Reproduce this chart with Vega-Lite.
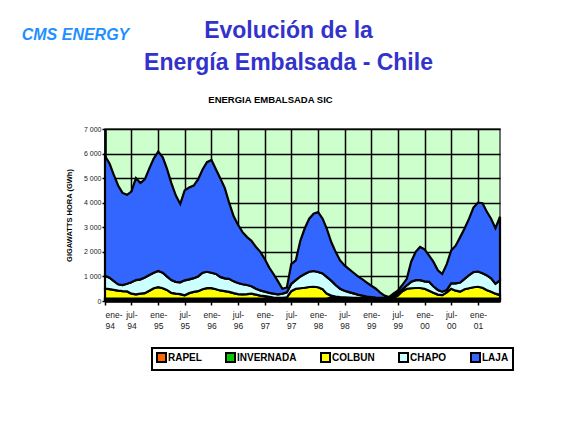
{
  "$schema": "https://vega.github.io/schema/vega-lite/v6.json",
  "width": 395,
  "height": 172,
  "autosize": {"type": "none"},
  "padding": {"left": 105, "top": 129, "right": 78, "bottom": 133},
  "background": "white",
  "title": {
    "text": ["Evolución de la", "Energía Embalsada - Chile"],
    "subtitle": "ENERGIA EMBALSADA SIC",
    "anchor": "middle",
    "frame": "group",
    "font": "Liberation Sans",
    "fontSize": 23,
    "fontWeight": "bold",
    "color": "#3333CC",
    "lineHeight": 32,
    "dx": -14,
    "subtitleFont": "Liberation Sans",
    "subtitleFontSize": 9.5,
    "subtitleFontWeight": "bold",
    "subtitleColor": "black",
    "subtitlePadding": 20,
    "offset": -78,
    "encode": {"subtitle": {"update": {"dx": {"value": -32}}}}
  },
  "datasets": {
    "orden": [
      {"serie": "RAPEL", "k": 1},
      {"serie": "INVERNADA", "k": 2},
      {"serie": "COLBUN", "k": 3},
      {"serie": "CHAPO", "k": 4},
      {"serie": "LAJA", "k": 5}
    ],
    "embalse": [
      {"fecha": "1994/01/01", "RAPEL": 90, "INVERNADA": 10, "COLBUN": 400, "CHAPO": 530, "LAJA": 4870},
      {"fecha": "1994/02/01", "RAPEL": 90, "INVERNADA": 10, "COLBUN": 380, "CHAPO": 470, "LAJA": 4650},
      {"fecha": "1994/03/01", "RAPEL": 90, "INVERNADA": 10, "COLBUN": 350, "CHAPO": 370, "LAJA": 4330},
      {"fecha": "1994/04/01", "RAPEL": 90, "INVERNADA": 10, "COLBUN": 320, "CHAPO": 260, "LAJA": 4020},
      {"fecha": "1994/05/01", "RAPEL": 90, "INVERNADA": 10, "COLBUN": 300, "CHAPO": 250, "LAJA": 3750},
      {"fecha": "1994/06/01", "RAPEL": 90, "INVERNADA": 10, "COLBUN": 290, "CHAPO": 310, "LAJA": 3620},
      {"fecha": "1994/07/01", "RAPEL": 90, "INVERNADA": 10, "COLBUN": 200, "CHAPO": 460, "LAJA": 3690},
      {"fecha": "1994/08/01", "RAPEL": 90, "INVERNADA": 10, "COLBUN": 170, "CHAPO": 580, "LAJA": 4150},
      {"fecha": "1994/09/01", "RAPEL": 90, "INVERNADA": 10, "COLBUN": 200, "CHAPO": 580, "LAJA": 3920},
      {"fecha": "1994/10/01", "RAPEL": 90, "INVERNADA": 10, "COLBUN": 220, "CHAPO": 640, "LAJA": 3990},
      {"fecha": "1994/11/01", "RAPEL": 90, "INVERNADA": 10, "COLBUN": 320, "CHAPO": 640, "LAJA": 4340},
      {"fecha": "1994/12/01", "RAPEL": 90, "INVERNADA": 10, "COLBUN": 420, "CHAPO": 630, "LAJA": 4650},
      {"fecha": "1995/01/01", "RAPEL": 90, "INVERNADA": 10, "COLBUN": 460, "CHAPO": 660, "LAJA": 4860},
      {"fecha": "1995/02/01", "RAPEL": 90, "INVERNADA": 10, "COLBUN": 420, "CHAPO": 630, "LAJA": 4700},
      {"fecha": "1995/03/01", "RAPEL": 90, "INVERNADA": 10, "COLBUN": 350, "CHAPO": 550, "LAJA": 4400},
      {"fecha": "1995/04/01", "RAPEL": 90, "INVERNADA": 10, "COLBUN": 230, "CHAPO": 520, "LAJA": 3950},
      {"fecha": "1995/05/01", "RAPEL": 90, "INVERNADA": 10, "COLBUN": 200, "CHAPO": 480, "LAJA": 3520},
      {"fecha": "1995/06/01", "RAPEL": 90, "INVERNADA": 10, "COLBUN": 180, "CHAPO": 480, "LAJA": 3190},
      {"fecha": "1995/07/01", "RAPEL": 90, "INVERNADA": 10, "COLBUN": 130, "CHAPO": 610, "LAJA": 3660},
      {"fecha": "1995/08/01", "RAPEL": 90, "INVERNADA": 10, "COLBUN": 220, "CHAPO": 560, "LAJA": 3740},
      {"fecha": "1995/09/01", "RAPEL": 90, "INVERNADA": 10, "COLBUN": 270, "CHAPO": 560, "LAJA": 3770},
      {"fecha": "1995/10/01", "RAPEL": 90, "INVERNADA": 10, "COLBUN": 300, "CHAPO": 600, "LAJA": 3950},
      {"fecha": "1995/11/01", "RAPEL": 90, "INVERNADA": 10, "COLBUN": 380, "CHAPO": 670, "LAJA": 4200},
      {"fecha": "1995/12/01", "RAPEL": 90, "INVERNADA": 10, "COLBUN": 420, "CHAPO": 670, "LAJA": 4460},
      {"fecha": "1996/01/01", "RAPEL": 90, "INVERNADA": 10, "COLBUN": 420, "CHAPO": 630, "LAJA": 4590},
      {"fecha": "1996/02/01", "RAPEL": 90, "INVERNADA": 10, "COLBUN": 380, "CHAPO": 620, "LAJA": 4250},
      {"fecha": "1996/03/01", "RAPEL": 90, "INVERNADA": 10, "COLBUN": 330, "CHAPO": 550, "LAJA": 4020},
      {"fecha": "1996/04/01", "RAPEL": 90, "INVERNADA": 10, "COLBUN": 300, "CHAPO": 520, "LAJA": 3680},
      {"fecha": "1996/05/01", "RAPEL": 90, "INVERNADA": 10, "COLBUN": 270, "CHAPO": 530, "LAJA": 3100},
      {"fecha": "1996/06/01", "RAPEL": 90, "INVERNADA": 10, "COLBUN": 220, "CHAPO": 480, "LAJA": 2650},
      {"fecha": "1996/07/01", "RAPEL": 90, "INVERNADA": 10, "COLBUN": 180, "CHAPO": 450, "LAJA": 2370},
      {"fecha": "1996/08/01", "RAPEL": 90, "INVERNADA": 10, "COLBUN": 170, "CHAPO": 410, "LAJA": 2120},
      {"fecha": "1996/09/01", "RAPEL": 90, "INVERNADA": 10, "COLBUN": 180, "CHAPO": 370, "LAJA": 1950},
      {"fecha": "1996/10/01", "RAPEL": 90, "INVERNADA": 10, "COLBUN": 200, "CHAPO": 300, "LAJA": 1850},
      {"fecha": "1996/11/01", "RAPEL": 90, "INVERNADA": 10, "COLBUN": 160, "CHAPO": 240, "LAJA": 1700},
      {"fecha": "1996/12/01", "RAPEL": 90, "INVERNADA": 10, "COLBUN": 120, "CHAPO": 210, "LAJA": 1570},
      {"fecha": "1997/01/01", "RAPEL": 90, "INVERNADA": 10, "COLBUN": 100, "CHAPO": 180, "LAJA": 1320},
      {"fecha": "1997/02/01", "RAPEL": 90, "INVERNADA": 10, "COLBUN": 70, "CHAPO": 160, "LAJA": 1020},
      {"fecha": "1997/03/01", "RAPEL": 90, "INVERNADA": 10, "COLBUN": 40, "CHAPO": 160, "LAJA": 800},
      {"fecha": "1997/04/01", "RAPEL": 90, "INVERNADA": 10, "COLBUN": 30, "CHAPO": 140, "LAJA": 530},
      {"fecha": "1997/05/01", "RAPEL": 90, "INVERNADA": 10, "COLBUN": 30, "CHAPO": 170, "LAJA": 200},
      {"fecha": "1997/06/01", "RAPEL": 90, "INVERNADA": 10, "COLBUN": 50, "CHAPO": 200, "LAJA": 200},
      {"fecha": "1997/07/01", "RAPEL": 90, "INVERNADA": 10, "COLBUN": 300, "CHAPO": 300, "LAJA": 800},
      {"fecha": "1997/08/01", "RAPEL": 90, "INVERNADA": 10, "COLBUN": 400, "CHAPO": 350, "LAJA": 800},
      {"fecha": "1997/09/01", "RAPEL": 90, "INVERNADA": 10, "COLBUN": 420, "CHAPO": 480, "LAJA": 1450},
      {"fecha": "1997/10/01", "RAPEL": 90, "INVERNADA": 10, "COLBUN": 440, "CHAPO": 560, "LAJA": 1850},
      {"fecha": "1997/11/01", "RAPEL": 90, "INVERNADA": 10, "COLBUN": 470, "CHAPO": 620, "LAJA": 2160},
      {"fecha": "1997/12/01", "RAPEL": 90, "INVERNADA": 10, "COLBUN": 480, "CHAPO": 640, "LAJA": 2330},
      {"fecha": "1998/01/01", "RAPEL": 90, "INVERNADA": 10, "COLBUN": 460, "CHAPO": 620, "LAJA": 2440},
      {"fecha": "1998/02/01", "RAPEL": 90, "INVERNADA": 10, "COLBUN": 380, "CHAPO": 640, "LAJA": 2230},
      {"fecha": "1998/03/01", "RAPEL": 90, "INVERNADA": 10, "COLBUN": 200, "CHAPO": 680, "LAJA": 1970},
      {"fecha": "1998/04/01", "RAPEL": 90, "INVERNADA": 60, "COLBUN": 70, "CHAPO": 610, "LAJA": 1570},
      {"fecha": "1998/05/01", "RAPEL": 90, "INVERNADA": 60, "COLBUN": 30, "CHAPO": 470, "LAJA": 1350},
      {"fecha": "1998/06/01", "RAPEL": 90, "INVERNADA": 10, "COLBUN": 60, "CHAPO": 340, "LAJA": 1150},
      {"fecha": "1998/07/01", "RAPEL": 90, "INVERNADA": 10, "COLBUN": 50, "CHAPO": 270, "LAJA": 1030},
      {"fecha": "1998/08/01", "RAPEL": 90, "INVERNADA": 10, "COLBUN": 40, "CHAPO": 220, "LAJA": 940},
      {"fecha": "1998/09/01", "RAPEL": 90, "INVERNADA": 10, "COLBUN": 30, "CHAPO": 180, "LAJA": 840},
      {"fecha": "1998/10/01", "RAPEL": 90, "INVERNADA": 10, "COLBUN": 25, "CHAPO": 135, "LAJA": 740},
      {"fecha": "1998/11/01", "RAPEL": 90, "INVERNADA": 10, "COLBUN": 20, "CHAPO": 100, "LAJA": 660},
      {"fecha": "1998/12/01", "RAPEL": 90, "INVERNADA": 10, "COLBUN": 15, "CHAPO": 65, "LAJA": 570},
      {"fecha": "1999/01/01", "RAPEL": 90, "INVERNADA": 10, "COLBUN": 10, "CHAPO": 50, "LAJA": 460},
      {"fecha": "1999/02/01", "RAPEL": 90, "INVERNADA": 10, "COLBUN": 10, "CHAPO": 30, "LAJA": 360},
      {"fecha": "1999/03/01", "RAPEL": 90, "INVERNADA": 10, "COLBUN": 10, "CHAPO": 20, "LAJA": 220},
      {"fecha": "1999/04/01", "RAPEL": 90, "INVERNADA": 10, "COLBUN": 10, "CHAPO": 20, "LAJA": 90},
      {"fecha": "1999/05/01", "RAPEL": 90, "INVERNADA": 10, "COLBUN": 10, "CHAPO": 40, "LAJA": 10},
      {"fecha": "1999/06/01", "RAPEL": 90, "INVERNADA": 10, "COLBUN": 50, "CHAPO": 90, "LAJA": 60},
      {"fecha": "1999/07/01", "RAPEL": 90, "INVERNADA": 10, "COLBUN": 120, "CHAPO": 100, "LAJA": 100},
      {"fecha": "1999/08/01", "RAPEL": 90, "INVERNADA": 10, "COLBUN": 300, "CHAPO": 80, "LAJA": 170},
      {"fecha": "1999/09/01", "RAPEL": 90, "INVERNADA": 10, "COLBUN": 400, "CHAPO": 140, "LAJA": 260},
      {"fecha": "1999/10/01", "RAPEL": 90, "INVERNADA": 10, "COLBUN": 420, "CHAPO": 260, "LAJA": 820},
      {"fecha": "1999/11/01", "RAPEL": 90, "INVERNADA": 10, "COLBUN": 430, "CHAPO": 320, "LAJA": 1150},
      {"fecha": "1999/12/01", "RAPEL": 90, "INVERNADA": 10, "COLBUN": 430, "CHAPO": 320, "LAJA": 1350},
      {"fecha": "2000/01/01", "RAPEL": 90, "INVERNADA": 10, "COLBUN": 400, "CHAPO": 300, "LAJA": 1300},
      {"fecha": "2000/02/01", "RAPEL": 90, "INVERNADA": 10, "COLBUN": 320, "CHAPO": 360, "LAJA": 1070},
      {"fecha": "2000/03/01", "RAPEL": 90, "INVERNADA": 10, "COLBUN": 240, "CHAPO": 260, "LAJA": 1000},
      {"fecha": "2000/04/01", "RAPEL": 90, "INVERNADA": 10, "COLBUN": 160, "CHAPO": 190, "LAJA": 800},
      {"fecha": "2000/05/01", "RAPEL": 90, "INVERNADA": 10, "COLBUN": 140, "CHAPO": 140, "LAJA": 720},
      {"fecha": "2000/06/01", "RAPEL": 90, "INVERNADA": 10, "COLBUN": 250, "CHAPO": 100, "LAJA": 1050},
      {"fecha": "2000/07/01", "RAPEL": 90, "INVERNADA": 10, "COLBUN": 400, "CHAPO": 220, "LAJA": 1330},
      {"fecha": "2000/08/01", "RAPEL": 90, "INVERNADA": 10, "COLBUN": 320, "CHAPO": 300, "LAJA": 1530},
      {"fecha": "2000/09/01", "RAPEL": 90, "INVERNADA": 10, "COLBUN": 280, "CHAPO": 370, "LAJA": 1850},
      {"fecha": "2000/10/01", "RAPEL": 90, "INVERNADA": 10, "COLBUN": 380, "CHAPO": 420, "LAJA": 2050},
      {"fecha": "2000/11/01", "RAPEL": 90, "INVERNADA": 10, "COLBUN": 420, "CHAPO": 530, "LAJA": 2300},
      {"fecha": "2000/12/01", "RAPEL": 90, "INVERNADA": 10, "COLBUN": 460, "CHAPO": 620, "LAJA": 2620},
      {"fecha": "2001/01/01", "RAPEL": 90, "INVERNADA": 10, "COLBUN": 480, "CHAPO": 620, "LAJA": 2800},
      {"fecha": "2001/02/01", "RAPEL": 90, "INVERNADA": 10, "COLBUN": 440, "CHAPO": 590, "LAJA": 2850},
      {"fecha": "2001/03/01", "RAPEL": 90, "INVERNADA": 10, "COLBUN": 350, "CHAPO": 600, "LAJA": 2600},
      {"fecha": "2001/04/01", "RAPEL": 90, "INVERNADA": 10, "COLBUN": 280, "CHAPO": 540, "LAJA": 2430},
      {"fecha": "2001/05/01", "RAPEL": 90, "INVERNADA": 10, "COLBUN": 200, "CHAPO": 400, "LAJA": 2260},
      {"fecha": "2001/06/01", "RAPEL": 90, "INVERNADA": 10, "COLBUN": 140, "CHAPO": 610, "LAJA": 2580}
    ]
  },
  "data": {"name": "embalse"},
  "transform": [
    {"fold": ["RAPEL", "INVERNADA", "COLBUN", "CHAPO", "LAJA"], "as": ["serie", "gwh"]},
    {"lookup": "serie", "from": {"data": {"name": "orden"}, "key": "serie", "fields": ["k"]}}
  ],
  "mark": {"type": "area", "stroke": "black", "strokeWidth": 2.2, "opacity": 1},
  "encoding": {
    "x": {
      "field": "fecha",
      "type": "temporal",
      "scale": {"domain": [{"year": 1994, "month": 1, "date": 1}, {"year": 2001, "month": 6, "date": 1}], "nice": false},
      "axis": {
        "values": [
          {"year": 1994, "month": 1, "date": 1}, {"year": 1994, "month": 7, "date": 1},
          {"year": 1995, "month": 1, "date": 1}, {"year": 1995, "month": 7, "date": 1},
          {"year": 1996, "month": 1, "date": 1}, {"year": 1996, "month": 7, "date": 1},
          {"year": 1997, "month": 1, "date": 1}, {"year": 1997, "month": 7, "date": 1},
          {"year": 1998, "month": 1, "date": 1}, {"year": 1998, "month": 7, "date": 1},
          {"year": 1999, "month": 1, "date": 1}, {"year": 1999, "month": 7, "date": 1},
          {"year": 2000, "month": 1, "date": 1}, {"year": 2000, "month": 7, "date": 1},
          {"year": 2001, "month": 1, "date": 1}
        ],
        "labelExpr": "[month(datum.value) == 0 ? 'ene-' : 'jul-', timeFormat(datum.value, '%y')]",
        "labelOverlap": false,
        "labelFont": "Liberation Sans",
        "labelFontSize": 8.5,
        "labelLineHeight": 11,
        "labelPadding": 5,
        "labelColor": "#222222",
        "labelAngle": 0,
        "domainColor": "black",
        "domainWidth": 2.5,
        "tickColor": "black",
        "tickSize": 4,
        "tickWidth": 1.5,
        "grid": true,
        "gridColor": "black",
        "gridWidth": 1.5,
        "gridOpacity": 1,
        "title": "CMS ENERGY",
        "titleX": -30,
        "titleY": -267,
        "titleAngle": 0,
        "titleAlign": "center",
        "titleBaseline": "middle",
        "titleFont": "Liberation Sans",
        "titleFontSize": 16,
        "titleFontStyle": "italic",
        "titleFontWeight": "bold",
        "titleColor": "#1E90FF"
      }
    },
    "y": {
      "field": "gwh",
      "type": "quantitative",
      "stack": "zero",
      "scale": {"domain": [0, 7000], "nice": false},
      "axis": {
        "values": [0, 1000, 2000, 3000, 4000, 5000, 6000, 7000],
        "labelExpr": "replace(format(datum.value, ','), ',', ' ')",
        "labelFont": "Liberation Sans",
        "labelFontSize": 7,
        "labelColor": "#222222",
        "labelPadding": 1,
        "domainColor": "black",
        "domainWidth": 2.5,
        "tickColor": "black",
        "tickSize": 3,
        "tickWidth": 1.5,
        "grid": true,
        "gridColor": "black",
        "gridWidth": 1.5,
        "gridOpacity": 1,
        "title": "GIGAWATTS HORA (GWh)",
        "titleFont": "Liberation Sans",
        "titleFontSize": 7.5,
        "titleFontWeight": "bold",
        "titleColor": "black",
        "titlePadding": 10
      }
    },
    "color": {
      "field": "serie",
      "type": "nominal",
      "scale": {
        "domain": ["RAPEL", "INVERNADA", "COLBUN", "CHAPO", "LAJA"],
        "range": ["#FF6600", "#00CC00", "#FFFF00", "#CCFFFF", "#3366FF"]
      },
      "legend": {
        "orient": "none",
        "legendX": 47,
        "legendY": 219,
        "direction": "horizontal",
        "title": null,
        "symbolType": "square",
        "symbolSize": 81,
        "symbolStrokeColor": "black",
        "symbolStrokeWidth": 2,
        "symbolOpacity": 1,
        "labelFont": "Liberation Sans",
        "labelFontSize": 10,
        "labelFontWeight": "bold",
        "labelColor": "black",
        "labelOffset": 1,
        "columnPadding": 20,
        "padding": 4,
        "strokeColor": "black"
      }
    },
    "order": {"field": "k", "type": "quantitative", "sort": "ascending"}
  },
  "config": {
    "font": "Liberation Sans",
    "view": {"fill": "#CCFFCC", "stroke": "#444444", "strokeWidth": 1.5},
    "legend": {"strokeWidth": 2}
  }
}
